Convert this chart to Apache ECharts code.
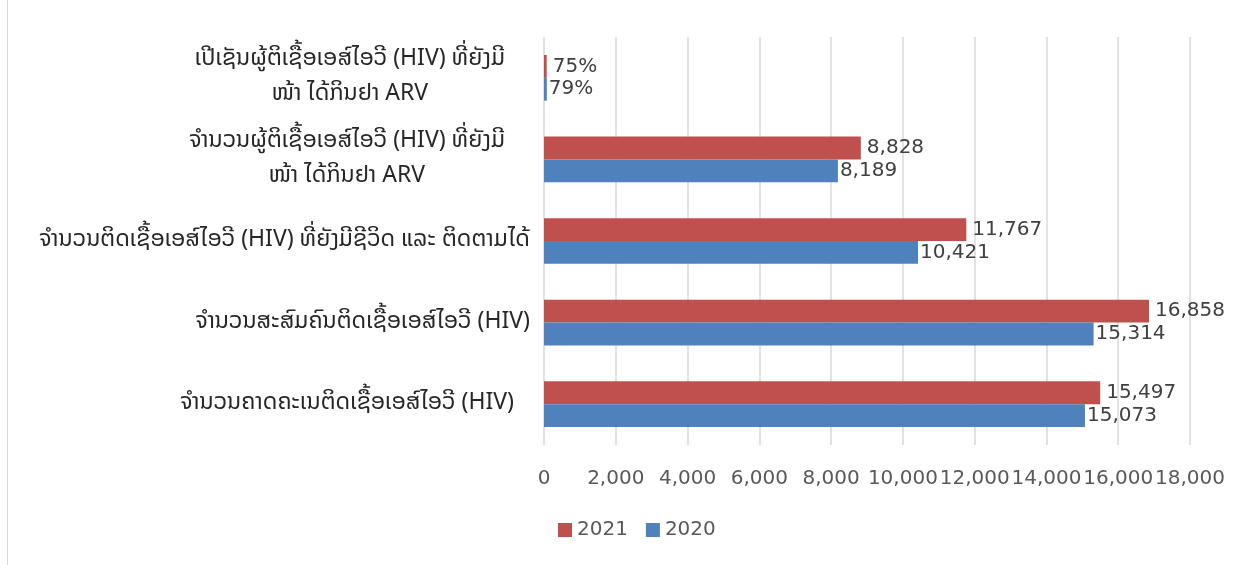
<!DOCTYPE html>
<html>
<head>
<meta charset="utf-8">
<script src="https://cdn.jsdelivr.net/npm/echarts@6/dist/echarts.min.js"></script>
<style>
  html, body { margin: 0; padding: 0; background: #fff; }
  #chart { height: 565px; box-sizing: border-box; border-left: 1px solid #d9d9d9; margin-left: 7px; width: 1233px; }
</style>
</head>
<body>
<div id="chart"></div>
<script>
// categories from bottom to top
const categories = [
  "ຈຳນວນຄາດຄະເນຕິດເຊື້ອເອສ໌ໄອວີ (HIV)",
  "ຈຳນວນສະສົມຄົນຕິດເຊື້ອເອສ໌ໄອວີ (HIV)",
  "ຈຳນວນຕິດເຊື້ອເອສ໌ໄອວີ (HIV) ທີ່ຍັງມີຊີວິດ ແລະ ຕິດຕາມໄດ້",
  "ຈຳນວນຜູ້ຕິເຊື້ອເອສ໌ໄອວີ (HIV) ທີ່ຍັງມີ\nໜ້າ ໄດ້ກິນຢາ ARV",
  "ເປີເຊັນຜູ້ຕິເຊື້ອເອສ໌ໄອວີ (HIV) ທີ່ຍັງມີ\nໜ້າ ໄດ້ກິນຢາ ARV"
];
const values2020 = [15073, 15314, 10421, 8189, 79];
const values2021 = [15497, 16858, 11767, 8828, 75];
const percentRow = 4; // last category holds percentages
const xTicks = { min: 0, max: 18000, interval: 2000 };

const laoFont = "'Noto Sans Lao', 'DejaVu Sans', 'Noto Sans', sans-serif";
const numFont = "'DejaVu Sans', 'Liberation Sans', sans-serif";

function fmt(v) {
  return v.toLocaleString("en-US");
}
function labelFmt(p) {
  return p.dataIndex === percentRow ? p.value + "%" : fmt(p.value);
}

const labelStyle = { align: "center", fontSize: 23, color: "#262626", lineHeight: 35, fontFamily: laoFont };

const chart = echarts.init(document.getElementById("chart"));
const option = {
  animation: false,
  textStyle: { fontFamily: laoFont },
  grid: { left: 536, right: 50, top: 37, bottom: 120, containLabel: false },
  legend: {
    data: ["2021", "2020"],
    bottom: 20,
    left: 545,
    icon: "rect",
    itemWidth: 14,
    itemHeight: 14,
    itemGap: 18,
    textStyle: { fontSize: 20, color: "#595959", fontFamily: numFont }
  },
  xAxis: {
    type: "value",
    min: xTicks.min,
    max: xTicks.max,
    interval: xTicks.interval,
    axisLine: { show: false },
    axisTick: { show: false },
    splitLine: { lineStyle: { color: "#d9d9d9", width: 1.5 } },
    axisLabel: {
      margin: 24,
      fontSize: 20,
      color: "#595959",
      fontFamily: numFont,
      formatter: v => fmt(v)
    }
  },
  yAxis: {
    type: "category",
    data: categories,
    axisLine: { show: false },
    axisTick: { show: false },
    axisLabel: {
      margin: 14,
      fontSize: 23,
      color: "#262626",
      lineHeight: 35,
      // wrapped labels: lines centred, block pulled in from the axis a bit
      formatter: (v, i) => {
        const lines = v.split("\n");
        let tag = "c";
        if (lines.length > 1) tag = "w";
        else if (i === 0) tag = "p";
        return lines.map(s => "{" + tag + "|" + s + "}").join("\n");
      },
      rich: {
        c: labelStyle,
        w: Object.assign({}, labelStyle, { padding: [0, 25, 0, 0] }),
        p: Object.assign({}, labelStyle, { padding: [0, 16, 0, 0] })
      }
    }
  },
  series: [
    {
      name: "2021",
      type: "bar",
      data: values2021,
      barGap: 0,
      barCategoryGap: "44%",
      itemStyle: { color: "#C0504D" },
      label: { show: true, position: "right", distance: 6, fontSize: 20, color: "#404040",
        fontFamily: numFont, formatter: labelFmt }
    },
    {
      name: "2020",
      type: "bar",
      data: values2020,
      barGap: 0,
      barCategoryGap: "44%",
      itemStyle: { color: "#4F81BD" },
      label: { show: true, position: "right", distance: 2, fontSize: 20, color: "#404040",
        fontFamily: numFont, formatter: labelFmt }
    }
  ]
};
chart.setOption(option);
</script>
</body>
</html>
